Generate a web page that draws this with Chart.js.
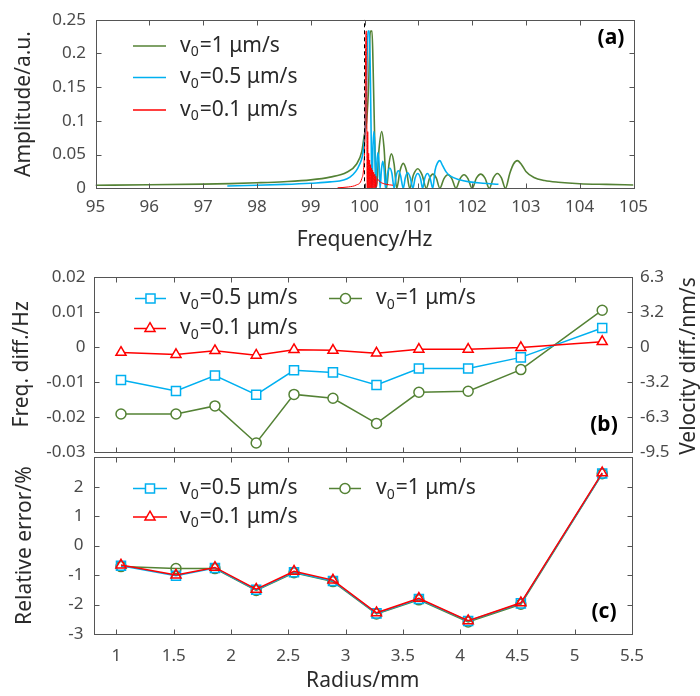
<!DOCTYPE html>
<html><head><meta charset="utf-8">
<script src="https://cdn.jsdelivr.net/npm/chart.js@4.4.0/dist/chart.umd.min.js"></script>
<style>
html,body{margin:0;padding:0;background:#fff;}
#wrap{position:relative;width:700px;height:696px;overflow:hidden;}
canvas{position:absolute;left:0;top:0;}
</style></head><body>
<div id="wrap">
<canvas id="ca" width="700" height="696"></canvas>
<canvas id="cb" width="700" height="696"></canvas>
<canvas id="cc" width="700" height="696"></canvas>
</div>
<script>
// ---------- DATA ----------
const seriesNames = ['v₀=1 μm/s', 'v₀=0.5 μm/s', 'v₀=0.1 μm/s'];

// Panel (a): amplitude spectra
const freqG = [95, 96, 97, 97.5, 98, 98.5, 99, 99.36, 99.67, 99.85, 99.95, 99.99, 100.04, 100.08, 100.1, 100.115, 100.14, 100.16, 100.19, 100.22,
  100.27, 100.32, 100.365, 100.41, 100.455, 100.5, 100.55, 100.6, 100.66, 100.72, 100.78, 100.84,
  100.91, 100.99, 101.07, 101.15, 101.21, 101.27, 101.335, 101.4, 101.475, 101.55, 101.625, 101.7,
  101.775, 101.85, 101.925, 102.0, 102.08, 102.16, 102.24, 102.32, 102.395, 102.47, 102.545, 102.62,
  102.7, 102.77, 102.84, 102.92, 103.0, 103.15, 103.35, 103.6, 104.0, 104.5, 105];
const ampG = [0.0045, 0.0052, 0.0062, 0.007, 0.0082, 0.0098, 0.0125, 0.0166, 0.0237, 0.0357, 0.0547, 0.076, 0.1, 0.16, 0.225, 0.233, 0.233, 0.18, 0.07, 0,
  0.058, 0.084, 0.058, 0, 0.036, 0.051, 0.036, 0, 0.026, 0.037, 0.026, 0,
  0.02, 0.029, 0.02, 0, 0.015, 0.021, 0.015, 0, 0.014, 0.02, 0.014, 0,
  0.014, 0.02, 0.014, 0, 0.015, 0.021, 0.015, 0, 0.0155, 0.022, 0.0155, 0,
  0.022, 0.036, 0.041, 0.035, 0.025, 0.016, 0.0115, 0.009, 0.0068, 0.0058, 0.005];

const freqB = [97.45, 98, 98.5, 99, 99.36, 99.73, 99.91, 99.975, 100.02, 100.05, 100.065, 100.09, 100.11, 100.13, 100.14,
  100.157, 100.175, 100.193, 100.21, 100.23, 100.25, 100.27, 100.29, 100.315, 100.34, 100.365, 100.39,
  100.43, 100.47, 100.51, 100.55, 100.59, 100.63, 100.67, 100.72, 100.76, 100.8, 100.85, 100.9,
  100.94, 100.99, 101.04, 101.08, 101.12, 101.17, 101.22, 101.27,
  101.31, 101.36, 101.4, 101.45, 101.52, 101.6, 101.75, 101.95, 102.2, 102.49];
const ampB = [0.0035, 0.0045, 0.0058, 0.0076, 0.0095, 0.0166, 0.0357, 0.055, 0.1, 0.2, 0.233, 0.233, 0.16, 0.04, 0,
  0.06, 0.084, 0.06, 0, 0.038, 0.053, 0.038, 0, 0.028, 0.04, 0.028, 0,
  0.022, 0.03, 0.022, 0, 0.019, 0.026, 0.019, 0, 0.016, 0.023, 0.016, 0,
  0.015, 0.022, 0.015, 0, 0.015, 0.022, 0.015, 0,
  0.026, 0.038, 0.041, 0.034, 0.024, 0.018, 0.013, 0.0095, 0.0075, 0.006];

const freqR = [99.5, 99.7, 99.85, 99.95, 99.99, 100.01, 100.02, 100.028, 100.038, 100.046, 100.052, 100.06, 100.068, 100.077,
  100.086, 100.095, 100.104, 100.113, 100.122, 100.131, 100.14, 100.15, 100.16, 100.17, 100.18, 100.19, 100.2, 100.21, 100.22,
  100.24, 100.27, 100.32, 100.4, 100.53];
const ampR = [0.0008, 0.002, 0.005, 0.0143, 0.038, 0.09, 0.2, 0.233, 0.233, 0.04, 0, 0.084, 0, 0.052,
  0, 0.042, 0, 0.035, 0, 0.03, 0, 0.027, 0, 0.024, 0, 0.021, 0, 0.018, 0.002,
  0.014, 0.011, 0.008, 0.006, 0.0045];

const freqTicks = [95, 96, 97, 98, 99, 100, 101, 102, 103, 104, 105];
const freqTickLabels = ['95', '96', '97', '98', '99', '100', '101', '102', '103', '104', '105'];
const ampTicks = [0, 0.05, 0.1, 0.15, 0.2, 0.25];
const ampTickLabels = ['0', '0.05', '0.1', '0.15', '0.2', '0.25'];
const markerFreq = 100;

// Panels (b) and (c)
const radius = [1.04, 1.52, 1.86, 2.22, 2.55, 2.89, 3.27, 3.64, 4.07, 4.53, 5.24];
const freqDiff1  = [-0.0192, -0.0192, -0.0169, -0.0275, -0.0136, -0.0147, -0.0219, -0.0130, -0.0127, -0.0065, 0.0105];
const freqDiff05 = [-0.0095, -0.0126, -0.0082, -0.0137, -0.0067, -0.0073, -0.0109, -0.0062, -0.0062, -0.0030, 0.0054];
const freqDiff01 = [-0.0016, -0.0022, -0.0011, -0.0024, -0.0008, -0.0010, -0.0018, -0.0007, -0.0007, -0.0002, 0.0015];

const relErr1  = [-0.71, -0.78, -0.78, -1.52, -0.92, -1.22, -2.32, -1.84, -2.59, -1.99, 2.44];
const relErr05 = [-0.68, -1.02, -0.76, -1.50, -0.90, -1.20, -2.30, -1.81, -2.56, -1.96, 2.45];
const relErr01 = [-0.66, -1.00, -0.74, -1.48, -0.87, -1.17, -2.28, -1.79, -2.55, -1.94, 2.47];

const radiusTicks = [1, 1.5, 2, 2.5, 3, 3.5, 4, 4.5, 5, 5.5];
const radiusTickLabels = ['1', '1.5', '2', '2.5', '3', '3.5', '4', '4.5', '5', '5.5'];
const diffTicks = [-0.03, -0.02, -0.01, 0, 0.01, 0.02];
const diffTickLabels = ['-0.03', '-0.02', '-0.01', '0', '0.01', '0.02'];
const velTicks = [-9.48, -6.32, -3.16, 0, 3.16, 6.32];
const velTickLabels = ['-9.5', '-6.3', '-3.2', '0', '3.2', '6.3'];
const relTicks = [-3, -2, -1, 0, 1, 2, 3];
const relTickLabels = ['-3', '-2', '-1', '0', '1', '2', ''];

// ---------- STYLE ----------
const FONT = "'Noto Sans', 'DejaVu Sans', sans-serif";
const TICK_COLOR = '#4a4a4a';
const TITLE_COLOR = '#2a2a2a';
const AXIS_COLOR = '#555555';
const GREEN = '#548235';
const BLUE = '#00B0F0';
const RED = '#FF0000';
const TICK_FS = 17, TITLE_FS = 21, LEG_FS = 21;

const pts = (xs, ys) => xs.map((x, i) => ({x, y: ys[i]}));
const setTicks = arr => s => { s.ticks = arr.map(v => ({value: v})); };

function marker(ctx, style, x, y, r, color, fill) {
  ctx.save(); ctx.strokeStyle = color; ctx.lineWidth = 1.5; ctx.fillStyle = fill;
  ctx.beginPath();
  if (style === 'circle') ctx.arc(x, y, r, 0, Math.PI * 2);
  else if (style === 'rect') { const s = r * Math.SQRT1_2; ctx.rect(x - s, y - s, 2 * s, 2 * s); }
  else if (style === 'triangle') {
    let a = 0;
    ctx.moveTo(x + Math.sin(a) * r, y - Math.cos(a) * r); a += 2 * Math.PI / 3;
    ctx.lineTo(x + Math.sin(a) * r, y - Math.cos(a) * r); a += 2 * Math.PI / 3;
    ctx.lineTo(x + Math.sin(a) * r, y - Math.cos(a) * r);
    ctx.closePath();
  }
  ctx.fill(); ctx.stroke(); ctx.restore();
}

function subText(ctx, text, x, y) {
  const parts = text.split('₀');
  ctx.textBaseline = 'middle'; ctx.textAlign = 'left'; ctx.fillStyle = TITLE_COLOR;
  ctx.font = LEG_FS + 'px ' + FONT;
  ctx.fillText(parts[0], x, y);
  let w = ctx.measureText(parts[0]).width;
  ctx.font = Math.round(LEG_FS * 0.68) + 'px ' + FONT;
  ctx.fillText('0', x + w, y + 6.5);
  w += ctx.measureText('0').width + 1;
  ctx.font = LEG_FS + 'px ' + FONT;
  ctx.fillText(parts[1], x + w, y);
}

function decor(cfg) {
  return {
    id: 'decor',
    afterDraw(chart) {
      const ctx = chart.ctx, a = chart.chartArea;
      ctx.save();
      ctx.strokeStyle = AXIS_COLOR; ctx.lineWidth = 1;
      const L = Math.round(a.left) + 0.5, R = Math.round(a.right) + 0.5, T = Math.round(a.top) + 0.5, B = Math.round(a.bottom) + 0.5;
      ctx.strokeRect(L, T, R - L, B - T);
      const tl = 5;
      ctx.beginPath();
      const xs = chart.scales.x;
      xs.ticks.forEach(t => {
        const p = Math.round(xs.getPixelForValue(t.value)) + 0.5;
        ctx.moveTo(p, B); ctx.lineTo(p, B - tl);
        ctx.moveTo(p, T); ctx.lineTo(p, T + tl);
      });
      const ys = chart.scales.y;
      ys.ticks.forEach(t => {
        const p = Math.round(ys.getPixelForValue(t.value)) + 0.5;
        ctx.moveTo(L, p); ctx.lineTo(L + tl, p);
        if (!chart.scales.y1) { ctx.moveTo(R, p); ctx.lineTo(R - tl, p); }
      });
      if (chart.scales.y1) {
        const y1 = chart.scales.y1;
        y1.ticks.forEach(t => {
          const p = Math.round(y1.getPixelForValue(t.value)) + 0.5;
          ctx.moveTo(R, p); ctx.lineTo(R - tl, p);
        });
      }
      ctx.stroke();
      // legend
      (cfg.legend || []).forEach(it => {
        ctx.strokeStyle = it.color; ctx.lineWidth = 1.5;
        ctx.beginPath(); ctx.moveTo(it.x1, it.y); ctx.lineTo(it.x2, it.y); ctx.stroke();
        if (it.marker) marker(ctx, it.marker, (it.x1 + it.x2) / 2, it.y, it.r, it.color, '#fff');
        subText(ctx, it.text, it.tx, it.y);
      });
      // panel label
      ctx.font = 'bold 21px ' + FONT; ctx.fillStyle = '#000'; ctx.textAlign = 'center'; ctx.textBaseline = 'middle';
      ctx.fillText(cfg.label, cfg.lx, cfg.ly);
      // rotated right title
      if (cfg.rightTitle) {
        ctx.save();
        ctx.translate(cfg.rx, cfg.ry); ctx.rotate(-Math.PI / 2);
        ctx.font = TITLE_FS + 'px ' + FONT; ctx.fillStyle = TITLE_COLOR; ctx.textAlign = 'center'; ctx.textBaseline = 'middle';
        ctx.fillText(cfg.rightTitle, 0, 0);
        ctx.restore();
      }
      ctx.restore();
    }
  };
}

const base = () => ({
  responsive: false, animation: false, devicePixelRatio: 1, events: [],
  plugins: {legend: {display: false}, tooltip: {enabled: false}}
});
const tickFont = {size: TICK_FS, family: FONT};
const titleFont = {size: TITLE_FS, family: FONT};
const noGrid = {display: false, drawTicks: false};
const noBorder = {display: false};

// ---------- PANEL (a) ----------
new Chart(document.getElementById('ca'), {
  type: 'line',
  data: {datasets: [
    {data: [{x: markerFreq, y: 0}, {x: markerFreq, y: 0.25}], borderColor: '#000', borderWidth: 1, borderDash: [4, 3], pointRadius: 0, order: 0},
    {data: pts(freqG, ampG), borderColor: GREEN, borderWidth: 1.6, pointRadius: 0, cubicInterpolationMode: 'monotone', order: 3},
    {data: pts(freqB, ampB), borderColor: BLUE, borderWidth: 1.6, pointRadius: 0, cubicInterpolationMode: 'monotone', order: 2},
    {data: pts(freqR, ampR), borderColor: RED, borderWidth: 1, pointRadius: 0, cubicInterpolationMode: 'monotone', order: 1}
  ]},
  options: Object.assign(base(), {
    layout: {padding: {left: 0, top: 12.5, right: 66.5, bottom: 441}},
    scales: {
      x: {type: 'linear', min: 95, max: 105, grid: noGrid, border: noBorder,
        afterBuildTicks: setTicks(freqTicks),
        ticks: {color: TICK_COLOR, font: tickFont, padding: 9, maxRotation: 0, autoSkip: false, callback: (v, i) => freqTickLabels[i]},
        title: {display: true, text: 'Frequency/Hz', color: TITLE_COLOR, font: titleFont, padding: {top: 0, bottom: 2.4}},
        afterFit: s => { s.height = 66.7; }},
      y: {type: 'linear', min: 0, max: 0.25, grid: noGrid, border: noBorder,
        afterBuildTicks: setTicks(ampTicks),
        ticks: {color: TICK_COLOR, font: tickFont, padding: 9.5, autoSkip: false, callback: (v, i) => ampTickLabels[i]},
        title: {display: true, text: 'Amplitude/a.u.', color: TITLE_COLOR, font: titleFont, padding: {top: 11.5, bottom: 0}},
        afterFit: s => { s.width = 95.5; }}
    }
  }),
  plugins: [decor({
    label: '(a)', lx: 611, ly: 38,
    legend: [
      {x1: 133, x2: 166, y: 46, color: GREEN, tx: 180, text: seriesNames[0]},
      {x1: 133, x2: 166, y: 77.5, color: BLUE, tx: 180, text: seriesNames[1]},
      {x1: 133, x2: 166, y: 110, color: RED, tx: 180, text: seriesNames[2]}
    ]
  })]
});

// ---------- PANEL (b) ----------
const lineDs = (xs, ys, color, style, r, order, fill) => ({
  data: pts(xs, ys), borderColor: color, borderWidth: 1.5, pointStyle: style, pointRadius: r,
  pointBorderWidth: 1.5, pointBorderColor: color, pointBackgroundColor: fill, order: order
});

new Chart(document.getElementById('cb'), {
  type: 'line',
  data: {datasets: [
    lineDs(radius, freqDiff1, GREEN, 'circle', 5, 3, '#fff'),
    lineDs(radius, freqDiff05, BLUE, 'rect', 6.4, 2, '#fff'),
    lineDs(radius, freqDiff01, RED, 'triangle', 5.8, 1, '#fff')
  ]},
  options: Object.assign(base(), {
    layout: {padding: {left: 0, top: 277, right: 8, bottom: 244.3}},
    scales: {
      x: {type: 'linear', min: 0.8, max: 5.5, grid: noGrid, border: noBorder,
        afterBuildTicks: setTicks(radiusTicks),
        ticks: {display: false}, title: {display: false},
        afterFit: s => { s.height = 0; }},
      y: {type: 'linear', min: -0.03, max: 0.02, grid: noGrid, border: noBorder,
        afterBuildTicks: setTicks(diffTicks),
        ticks: {color: TICK_COLOR, font: tickFont, padding: 8, autoSkip: false, callback: (v, i) => diffTickLabels[i]},
        title: {display: true, text: 'Freq. diff./Hz', color: TITLE_COLOR, font: titleFont, padding: {top: 9.5, bottom: 0}},
        afterFit: s => { s.width = 93.5; }},
      y1: {type: 'linear', position: 'right', min: -9.48, max: 6.32, grid: noGrid, border: noBorder,
        afterBuildTicks: setTicks(velTicks),
        ticks: {color: TICK_COLOR, font: tickFont, padding: 8, autoSkip: false, callback: (v, i) => velTickLabels[i]},
        title: {display: false},
        afterFit: s => { s.width = 60; }}
    }
  }),
  plugins: [decor({
    label: '(b)', lx: 604, ly: 425,
    rightTitle: 'Velocity diff./nm/s', rx: 689, ry: 366,
    legend: [
      {x1: 135, x2: 166, y: 298.5, color: BLUE, marker: 'rect', r: 6.4, tx: 180, text: seriesNames[1]},
      {x1: 134, x2: 166, y: 328.5, color: RED, marker: 'triangle', r: 5.8, tx: 180, text: seriesNames[2]},
      {x1: 329, x2: 362, y: 298.5, color: GREEN, marker: 'circle', r: 5, tx: 376, text: seriesNames[0]}
    ]
  })]
});

// ---------- PANEL (c) ----------
new Chart(document.getElementById('cc'), {
  type: 'line',
  data: {datasets: [
    lineDs(radius, relErr1, GREEN, 'circle', 5, 3, 'rgba(0,0,0,0)'),
    lineDs(radius, relErr05, BLUE, 'rect', 6.4, 2, 'rgba(0,0,0,0)'),
    lineDs(radius, relErr01, RED, 'triangle', 5.8, 1, 'rgba(0,0,0,0)')
  ]},
  options: Object.assign(base(), {
    layout: {padding: {left: 0, top: 457.3, right: 68, bottom: 0}},
    scales: {
      x: {type: 'linear', min: 0.8, max: 5.5, grid: noGrid, border: noBorder,
        afterBuildTicks: setTicks(radiusTicks),
        ticks: {color: TICK_COLOR, font: tickFont, padding: 12, maxRotation: 0, autoSkip: false, callback: (v, i) => radiusTickLabels[i]},
        title: {display: true, text: 'Radius/mm', color: TITLE_COLOR, font: titleFont, padding: {top: 0, bottom: 2.4}},
        afterFit: s => { s.height = 62; }},
      y: {type: 'linear', min: -3, max: 3, grid: noGrid, border: noBorder,
        afterBuildTicks: setTicks(relTicks),
        ticks: {color: TICK_COLOR, font: tickFont, padding: 10, autoSkip: false, callback: (v, i) => relTickLabels[i]},
        title: {display: true, text: 'Relative error/%', color: TITLE_COLOR, font: titleFont, padding: {top: 12.5, bottom: 0}},
        afterFit: s => { s.width = 93.5; }}
    }
  }),
  plugins: [decor({
    label: '(c)', lx: 604, ly: 612,
    legend: [
      {x1: 133, x2: 167, y: 488.5, color: BLUE, marker: 'rect', r: 6.4, tx: 180, text: seriesNames[1]},
      {x1: 133, x2: 167, y: 517, color: RED, marker: 'triangle', r: 5.8, tx: 180, text: seriesNames[2]},
      {x1: 329, x2: 361, y: 488.5, color: GREEN, marker: 'circle', r: 5, tx: 376, text: seriesNames[0]}
    ]
  })]
});
</script>
</body></html>
